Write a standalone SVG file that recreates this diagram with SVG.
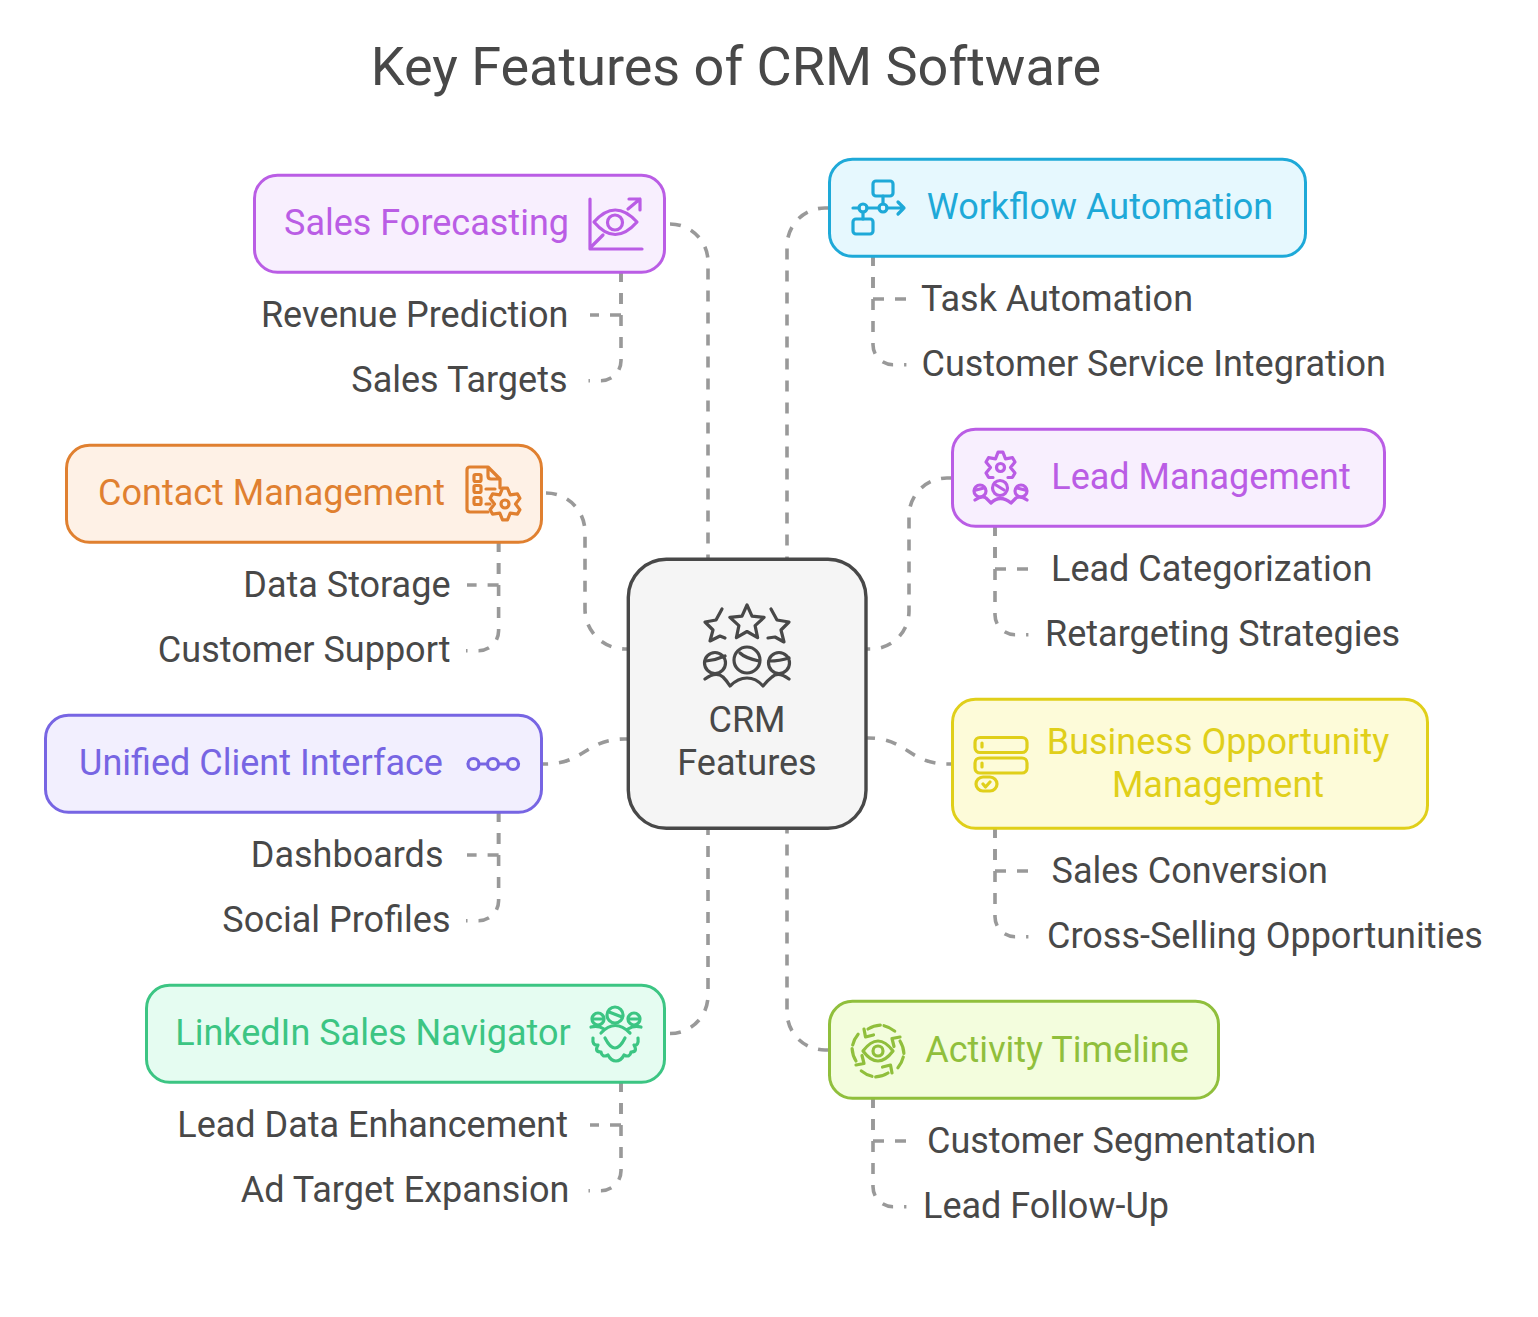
<svg xmlns="http://www.w3.org/2000/svg" width="1538" height="1317" viewBox="0 0 1538 1317">
<style>
text{font-family:Roboto,"Liberation Sans",sans-serif;font-size:36px;fill:#484848}
.title{font-size:54px;text-anchor:middle}
.m{text-anchor:middle}.e{text-anchor:end}
.box{stroke-width:3}
.ic{fill:none;stroke-width:3.200;stroke-linecap:round;stroke-linejoin:round}
.c{fill:none;stroke:#999;stroke-width:3.600;stroke-dasharray:11 11}
.pu rect{fill:#F8EFFE;stroke:#BA5DE5}.pu text{fill:#BA5DE5}.pu .ic{stroke:#BA5DE5}
.bl rect{fill:#E6F8FE;stroke:#1EA9D8}.bl text{fill:#1EA9D8}.bl .ic{stroke:#1EA9D8}
.or rect{fill:#FEF1E6;stroke:#E08030}.or text{fill:#E08030}.or .ic{stroke:#E08030}
.in rect{fill:#F2EFFE;stroke:#7765E3}.in text{fill:#7765E3}.in .ic{stroke:#7765E3}
.ye rect{fill:#FDFBD9;stroke:#E0CF1A}.ye text{fill:#E0CF1A}.ye .ic{stroke:#E0CF1A}
.gr rect{fill:#E5FCF1;stroke:#3CC583}.gr text{fill:#3CC583}.gr .ic{stroke:#3CC583}
.li rect{fill:#F3FDDD;stroke:#90BF3C}.li text{fill:#90BF3C}.li .ic{stroke:#90BF3C}
</style>
<defs>
<g id="spin">
<path d="M884 1025.700A26 26 0 0 1 894.700 1031.100M880.300 1025.100A26 26 0 0 0 868 1029M864 1029L865.500 1037L873.500 1035"/>
</g>
</defs>
<rect width="1538" height="1317" fill="#fff"/>
<text class="title" x="736" y="85">Key Features of CRM Software</text>

<g id="connectors">
<path class="c" d="M670 224A38 38 0 0 1 708 262V562"/>
<path class="c" d="M829 208H825A38 38 0 0 0 787 246V562"/>
<path class="c" d="M546 493A39 39 0 0 1 585 532V609A40 40 0 0 0 625 649H632"/>
<path class="c" d="M952 478H947A38 38 0 0 0 909 516V611A38 38 0 0 1 871 649H862"/>
<path class="c" d="M537 764H545C585 764 585 739 625 739H632"/>
<path class="c" d="M864 738H868C908 738 908 764 948 764H955"/>
<path class="c" d="M670 1033.500A38 38 0 0 0 708 995.500V826"/>
<path class="c" d="M829 1050H825A38 38 0 0 1 787 1012V826"/>
<path class="c" d="M621 271V315H590"/>
<path class="c" d="M621 271V360.700A20 20 0 0 1 601 380.700H588.500"/>
<path class="c" d="M873 255V299H906"/>
<path class="c" d="M873 255V344.700A20 20 0 0 0 893 364.700H906.400"/>
<path class="c" d="M498.600 541V585H467"/>
<path class="c" d="M498.600 541V630.700A20 20 0 0 1 478.600 650.700H466"/>
<path class="c" d="M995 525V569H1030"/>
<path class="c" d="M995 525V614.700A20 20 0 0 0 1015 634.700H1028.400"/>
<path class="c" d="M498.600 811V855H467"/>
<path class="c" d="M498.600 811V900.700A20 20 0 0 1 478.600 920.700H466"/>
<path class="c" d="M995 827V871H1030"/>
<path class="c" d="M995 827V916.700A20 20 0 0 0 1015 936.700H1028.400"/>
<path class="c" d="M621 1081V1125H590"/>
<path class="c" d="M621 1081V1170.700A20 20 0 0 1 601 1190.700H588.500"/>
<path class="c" d="M873 1097V1141H906"/>
<path class="c" d="M873 1097V1186.700A20 20 0 0 0 893 1206.700H906.400"/>
</g>

<g id="node-center">
<rect x="628.300" y="559.300" width="237.700" height="269" rx="38" fill="#F5F5F5" stroke="#484848" stroke-width="3.400"/>
<g class="ic" stroke="#484848">
<path d="M747 605L752 616.100L764.100 617.400L755.100 625.600L757.600 637.600L747 631.500L736.400 637.600L738.900 625.600L729.900 617.400L742 616.100Z"/>
<path d="M722 609L716 620L705 622L713 630L710 641L720 636L725 638"/>
<path d="M771 609L777 620L789 622L781 630L784 642L775 637L768 638"/>
<circle cx="715" cy="663" r="10.500"/><circle cx="747" cy="660" r="13"/><circle cx="779" cy="663" r="10.500"/>
<path d="M706 661Q716 660 725 656M740 653Q745 658 759 661M769 661Q780 661 789 658"/>
<path d="M705 679Q716 671 723 677Q727 681 730 686Q738 678 747 678Q756 678 763 686Q768 680 772 677Q778 671 789 679"/>
</g>
<text class="m" x="747" y="732">CRM</text>
<text class="m" x="747" y="775">Features</text>
</g>

<g id="node-sales-forecasting" class="pu">
<rect class="box" x="254.500" y="175.300" width="410" height="97" rx="23"/>
<text class="m" x="426.500" y="235">Sales Forecasting</text>
<g class="ic">
<path d="M590 199V249H642M592 246L603 235M628 209L640 199M629 199H640V210"/>
<path d="M594 222Q615 198 637 222Q615 247 594 222Z"/>
<circle cx="615" cy="222.500" r="7.500"/>
</g>
</g>
<g id="sub-sales"><text class="e" x="568.500" y="327">Revenue Prediction</text><text class="e" x="567.500" y="392">Sales Targets</text></g>

<g id="node-workflow-automation" class="bl">
<rect class="box" x="829.500" y="159.300" width="476" height="97" rx="23"/>
<text class="m" x="1100" y="219">Workflow Automation</text>
<g class="ic">
<rect x="873" y="181" width="20" height="15" rx="3" style="fill:none"/>
<rect x="853" y="219" width="20" height="15" rx="3" style="fill:none"/>
<circle cx="883" cy="208" r="4"/><circle cx="863" cy="208" r="4"/>
<path d="M883 196V204M853 208H859M867 208H879M887 208H904M898 202L904 208L898 214M863 212V219"/>
</g>
</g>
<g id="sub-workflow"><text x="921" y="311">Task Automation</text><text x="921.500" y="376">Customer Service Integration</text></g>

<g id="node-contact-management" class="or">
<rect class="box" x="66.500" y="445.300" width="475" height="97" rx="23"/>
<text class="m" x="271.500" y="505">Contact Management</text>
<g class="ic">
<path d="M488 512H470Q467 512 467 509V470Q467 467 470 467H488L500 479V488M488 467V476Q488 479 491 479H500"/>
<rect x="474" y="474.500" width="7" height="7" rx="1.500" style="fill:none"/><rect x="474" y="485.500" width="7" height="7" rx="1.500" style="fill:none"/><rect x="474" y="497.500" width="7" height="7" rx="1.500" style="fill:none"/>
<path d="M486 489H495M486 504H490"/>
<path d="M502.500 488.200L499.800 494.900L492.600 493.900L490.100 498.300L494.500 504L490.100 509.700L492.600 514.100L499.800 513.100L502.500 519.800L507.500 519.800L510.200 513.100L517.400 514.100L519.900 509.700L515.500 504L519.900 498.300L517.400 493.900L510.200 494.900L507.500 488.200Z"/>
<circle cx="505" cy="504" r="4"/>
</g>
</g>
<g id="sub-contact"><text class="e" x="450.500" y="597">Data Storage</text><text class="e" x="450.500" y="662">Customer Support</text></g>

<g id="node-lead-management" class="pu">
<rect class="box" x="952.500" y="429.300" width="432" height="97" rx="23"/>
<text class="m" x="1201" y="489">Lead Management</text>
<g class="ic">
<path d="M993 477.500L988.500 477.300L986 473L990.500 467.500L986 462L988.500 457.700L995.500 458.800L998.100 452.200L1002.900 452.200L1005.500 458.800L1012.500 457.700L1015 462L1010.500 467.500L1015 473L1012.500 477.300L1008 477.500"/>
<circle cx="1000.500" cy="467.500" r="4"/>
<circle cx="980" cy="491" r="6"/><circle cx="1000" cy="488" r="7.500"/><circle cx="1021" cy="491" r="6"/>
<path d="M976 490L984 488M996 485L1004 490M1017 488L1025 490"/>
<path d="M975 500Q982 495 986 498L991 503Q1000 494 1011 503L1016 498Q1020 495 1027 500"/>
</g>
</g>
<g id="sub-lead"><text x="1051" y="581">Lead Categorization</text><text x="1045" y="646">Retargeting Strategies</text></g>

<g id="node-unified-client-interface" class="in">
<rect class="box" x="45.500" y="715.300" width="496" height="97" rx="23"/>
<text class="m" x="261" y="775">Unified Client Interface</text>
<g class="ic">
<circle cx="473.500" cy="764" r="5.500"/><circle cx="493" cy="764" r="5.500"/><circle cx="513" cy="764" r="5.500"/>
<path d="M479 764H487.500M498.500 764H507.500"/>
</g>
</g>
<g id="sub-unified"><text class="e" x="443.500" y="867">Dashboards</text><text class="e" x="450.500" y="932">Social Profiles</text></g>

<g id="node-business-opportunity" class="ye">
<rect class="box" x="952.500" y="699.300" width="475" height="129" rx="23"/>
<text class="m" x="1218" y="754">Business Opportunity</text>
<text class="m" x="1218" y="797">Management</text>
<g class="ic">
<rect x="975" y="737.500" width="52" height="15" rx="5" style="fill:none"/>
<rect x="975" y="758" width="52" height="15" rx="5" style="fill:none"/>
<rect x="976" y="777" width="21" height="14" rx="7" style="fill:none"/>
<path d="M982 743V747M982 763V767M983 784L985.500 787L990 782"/>
</g>
</g>
<g id="sub-business"><text x="1051.500" y="883">Sales Conversion</text><text x="1047" y="948">Cross-Selling Opportunities</text></g>

<g id="node-linkedin-sales-navigator" class="gr">
<rect class="box" x="146.500" y="985.300" width="518" height="97" rx="23"/>
<text class="m" x="373" y="1045">LinkedIn Sales Navigator</text>
<g class="ic">
<circle cx="615" cy="1015" r="8"/><circle cx="598" cy="1019" r="6"/><circle cx="634" cy="1019" r="6"/>
<path d="M609 1012L622 1017M593 1019H603M629 1019H639"/>
<path d="M591 1027Q598 1025 604 1029M601 1033Q615 1018 630 1033M628 1029Q634 1025 641 1027"/>
<path d="M605 1038Q615 1058 625 1038"/>
<path d="M593 1038Q592 1046 598 1045Q594 1052 601 1052Q602 1058 608 1055Q611 1061 616 1061Q621 1061 624 1055Q630 1058 631 1052Q638 1052 634 1045Q639 1046 638 1038"/>
</g>
</g>
<g id="sub-linkedin"><text class="e" x="568" y="1137">Lead Data Enhancement</text><text class="e" x="569.500" y="1202">Ad Target Expansion</text></g>

<g id="node-activity-timeline" class="li">
<rect class="box" x="829.500" y="1001.300" width="389" height="97" rx="23"/>
<text class="m" x="1057" y="1062">Activity Timeline</text>
<g class="ic">
<path d="M863 1051Q878 1031 893 1051Q878 1071 863 1051Z"/>
<circle cx="878" cy="1051" r="5"/>
<use href="#spin"/>
<use href="#spin" transform="rotate(90 878 1051)"/>
<use href="#spin" transform="rotate(180 878 1051)"/>
<use href="#spin" transform="rotate(270 878 1051)"/>
</g>
</g>
<g id="sub-activity"><text x="927" y="1153">Customer Segmentation</text><text x="923" y="1218">Lead Follow-Up</text></g>
</svg>
